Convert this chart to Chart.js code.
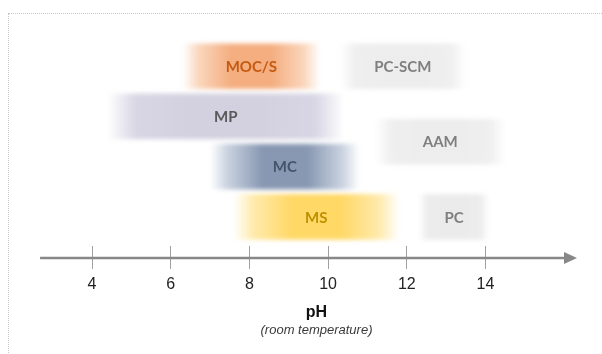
<!DOCTYPE html>
<html>
<head>
<meta charset="utf-8">
<script src="https://cdn.jsdelivr.net/npm/chart.js@4.4.1/dist/chart.umd.min.js"></script>
<style>
  html, body { margin: 0; padding: 0; background: #fff; overflow: hidden; }
  #wrap { position: relative; width: 602px; height: 354px; }
  #frame { position: absolute; left: 8px; top: 13px; width: 640px; height: 400px; border: 1px dotted #c8c8c8; }
  #phChart { position: absolute; left: 0; top: 0; }
</style>
</head>
<body>
<div id="wrap">
  <div id="frame"></div>
  <canvas id="phChart" width="602" height="354"></canvas>
</div>
<script>
// pH ranges for each binder system
const systems = ['MOC/S', 'PC-SCM', 'MP', 'AAM', 'MC', 'MS', 'PC'];
const phLow   = [6.3, 10.3, 4.4, 11.2, 7.0, 7.6, 12.3];
const phHigh  = [9.8, 13.5, 10.4, 14.5, 10.8, 11.8, 14.1];
const rowLevel = [4, 4, 3, 2.5, 2, 1, 1];
const phTicks = [4, 6, 8, 10, 12, 14];
const axisStart = 2.68;

// colours: edge, core, text
const bandStyle = [
    { edge: [250, 214, 188], core: [244, 174, 128], text: '#c55a11' },
    { edge: [239, 239, 239], core: [237, 237, 237], text: '#7f7f7f' },
    { edge: [216, 214, 228], core: [211, 209, 223], text: '#595959' },
    { edge: [239, 239, 239], core: [237, 237, 237], text: '#7f7f7f' },
    { edge: [200, 209, 223], core: [136, 152, 178], text: '#44546a' },
    { edge: [255, 234, 172], core: [255, 216, 102], text: '#bf9000' },
    { edge: [237, 237, 237], core: [235, 235, 235], text: '#7f7f7f' }
];

function rgba(c, a) {
    return 'rgba(' + c[0] + ',' + c[1] + ',' + c[2] + ',' + a + ')';
}

// gradient across each band, soft at both ends
function bandFill(context) {
    const i = context.dataIndex;
    const chart = context.chart;
    const st = bandStyle[i];
    if (!chart.chartArea || i === undefined) {
        return rgba(st.core, 1);
    }
    const xs = chart.scales.x;
    const x0 = xs.getPixelForValue(phLow[i]);
    const x1 = xs.getPixelForValue(phHigh[i]);
    const g = chart.ctx.createLinearGradient(x0, 0, x1, 0);
    g.addColorStop(0, rgba(st.edge, 0));
    g.addColorStop(0.12, rgba(st.edge, 1));
    g.addColorStop(0.35, rgba(st.core, 1));
    g.addColorStop(0.65, rgba(st.core, 1));
    g.addColorStop(0.88, rgba(st.edge, 1));
    g.addColorStop(1, rgba(st.edge, 0));
    return g;
}

const softBands = {
    id: 'softBands',
    beforeDatasetsDraw(chart) {
        chart.ctx.save();
        chart.ctx.filter = 'blur(2px)';
    },
    afterDatasetsDraw(chart) {
        const ctx = chart.ctx;
        ctx.restore();

        // axis line with arrow
        const xs = chart.scales.x;
        const area = chart.chartArea;
        const y = area.bottom + 12;
        const xStart = xs.getPixelForValue(axisStart);
        const xEnd = area.right;
        ctx.save();
        ctx.strokeStyle = '#878787';
        ctx.fillStyle = '#878787';
        ctx.lineWidth = 2.5;
        ctx.beginPath();
        ctx.moveTo(xStart, y);
        ctx.lineTo(xEnd - 10, y);
        ctx.stroke();
        ctx.beginPath();
        ctx.moveTo(xEnd, y);
        ctx.lineTo(xEnd - 13, y - 6);
        ctx.lineTo(xEnd - 13, y + 6);
        ctx.closePath();
        ctx.fill();

        // band labels
        ctx.font = 'bold 15px Lato, "Open Sans", sans-serif';
        ctx.textAlign = 'center';
        ctx.textBaseline = 'middle';
        chart.getDatasetMeta(0).data.forEach((bar, i) => {
            ctx.fillStyle = bandStyle[i].text;
            ctx.fillText(systems[i], (bar.x + bar.base) / 2, bar.y + 1);
        });
        ctx.restore();
    }
};

const ctx = document.getElementById('phChart').getContext('2d');
const chart = new Chart(ctx, {
    type: 'bar',
    data: {
        datasets: [{
            data: systems.map((s, i) => ({ x: [phLow[i], phHigh[i]], y: rowLevel[i] })),
            backgroundColor: bandFill,
            borderWidth: 0,
            barThickness: 45,
            grouped: false
        }]
    },
    options: {
        indexAxis: 'y',
        responsive: false,
        animation: false,
        layout: {
            padding: { top: 16, left: 56, right: 25, bottom: 16 }
        },
        plugins: {
            legend: { display: false },
            tooltip: { enabled: false },
            subtitle: {
                display: true,
                position: 'bottom',
                text: '(room temperature)',
                color: '#3a3a3a',
                font: { family: '"Liberation Sans", Arial, sans-serif', size: 13, style: 'italic', weight: 'normal' },
                padding: { top: 0, bottom: 0 }
            }
        },
        scales: {
            x: {
                type: 'linear',
                min: 3.085,
                max: 16.325,
                afterBuildTicks(scale) {
                    scale.ticks = phTicks.map(v => ({ value: v }));
                },
                border: { display: false },
                grid: {
                    drawOnChartArea: false,
                    drawTicks: true,
                    tickLength: 23,
                    color: '#a0a0a0',
                    lineWidth: 1
                },
                ticks: {
                    color: '#222',
                    padding: 6,
                    font: { family: '"Liberation Sans", Arial, sans-serif', size: 16 }
                },
                title: {
                    display: true,
                    text: 'pH',
                    color: '#111',
                    font: { family: '"Liberation Sans", Arial, sans-serif', size: 16, weight: 'bold' },
                    padding: { top: 3, bottom: 0 }
                }
            },
            y: {
                type: 'linear',
                min: 0.42,
                max: 5.0,
                offset: false,
                display: false
            }
        }
    },
    plugins: [softBands]
});
</script>
</body>
</html>
